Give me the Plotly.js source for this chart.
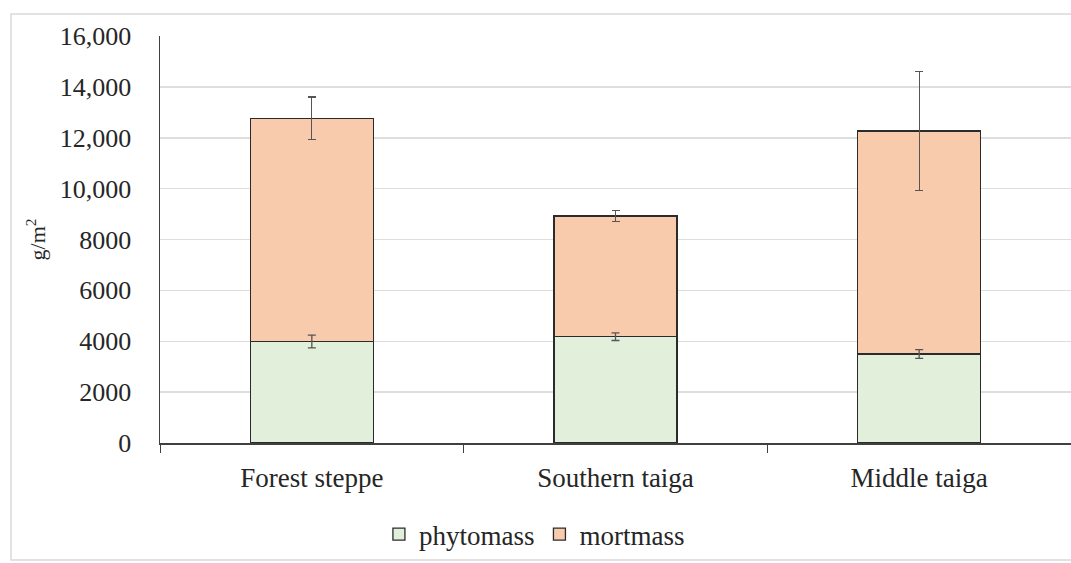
<!DOCTYPE html>
<html>
<head>
<meta charset="utf-8">
<script src="https://cdn.plot.ly/plotly-3.0.1.min.js"></script>
<style>
html,body{margin:0;padding:0;background:#fff;}
#chart{width:1071px;height:563px;}
</style>
</head>
<body>
<div id="chart"></div>
<script>
var categories = ["Forest steppe", "Southern taiga", "Middle taiga"];
var phytomass = [3990, 4180, 3500];
var phytomassErr = [250, 150, 170];
var mortmass = [8770, 4740, 8770];
var mortmassErr = [840, 210, 2330];
var yTickVals = [0, 2000, 4000, 6000, 8000, 10000, 12000, 14000, 16000];
var yTickText = ["0", "2000", "4000", "6000", "8000", "10,000", "12,000", "14,000", "16,000"];

var serif = "Liberation Serif, Times New Roman, serif";
var errStyle = function (arr) {
  return {type: "data", array: arr, visible: true, color: "#555555", thickness: 1.3, width: 4};
};

var traces = [
  {
    type: "bar", name: "phytomass", x: categories, y: phytomass,
    marker: {color: "#e2efda", line: {color: "#2b2b2b", width: 1.3}}
  },
  {
    type: "bar", name: "mortmass", x: categories, y: mortmass,
    marker: {color: "#f8cbad", line: {color: "#2b2b2b", width: 1.3}},
    error_y: errStyle(mortmassErr)
  },
  {
    type: "scatter", mode: "markers", name: "phytomass error", showlegend: false,
    x: categories, y: phytomass, marker: {size: 1, color: "rgba(0,0,0,0)"},
    error_y: errStyle(phytomassErr)
  }
];

var layout = {
  width: 1071, height: 563,
  margin: {l: 160, r: 0, t: 36, b: 120},
  paper_bgcolor: "#ffffff", plot_bgcolor: "#ffffff",
  barmode: "stack", bargap: 0.595,
  font: {family: serif, color: "#262626", size: 26},
  showlegend: true,
  legend: {orientation: "h", x: 0.411, xanchor: "center", y: -0.225, yanchor: "middle",
           bgcolor: "rgba(0,0,0,0)",
           font: {family: serif, size: 27, color: "#262626"}, traceorder: "normal",
           itemwidth: 30, tracegroupgap: 0},
  xaxis: {
    type: "category", showgrid: false, showline: true, linecolor: "#404040", linewidth: 1.5,
    ticks: "outside", tickson: "boundaries", ticklen: 8, tickcolor: "#404040",
    ticklabelstandoff: 10,
    tickfont: {family: serif, size: 27, color: "#262626"}, fixedrange: true
  },
  yaxis: {
    range: [0, 16000], tickvals: yTickVals, ticktext: yTickText,
    showgrid: true, gridcolor: "#dedede", gridwidth: 1.5,
    showline: true, linecolor: "#404040", linewidth: 1.5,
    ticks: "", ticklabelstandoff: 22,
    tickfont: {family: serif, size: 26, color: "#262626"},
    title: {text: "g/m<sup>2</sup>", font: {family: serif, size: 22, color: "#262626"}, standoff: 8},
    zeroline: false, fixedrange: true
  },
  shapes: [
    {type: "rect", xref: "paper", yref: "paper",
     x0: (11 - 160) / 911, x1: (1080 - 160) / 911,
     y0: (443 - 560) / 407, y1: (443 - 14) / 407,
     line: {color: "#d9d9d9", width: 1.5}, fillcolor: "rgba(0,0,0,0)", layer: "below"}
  ]
};

Plotly.newPlot("chart", traces, layout, {displayModeBar: false, staticPlot: true});
</script>
</body>
</html>
